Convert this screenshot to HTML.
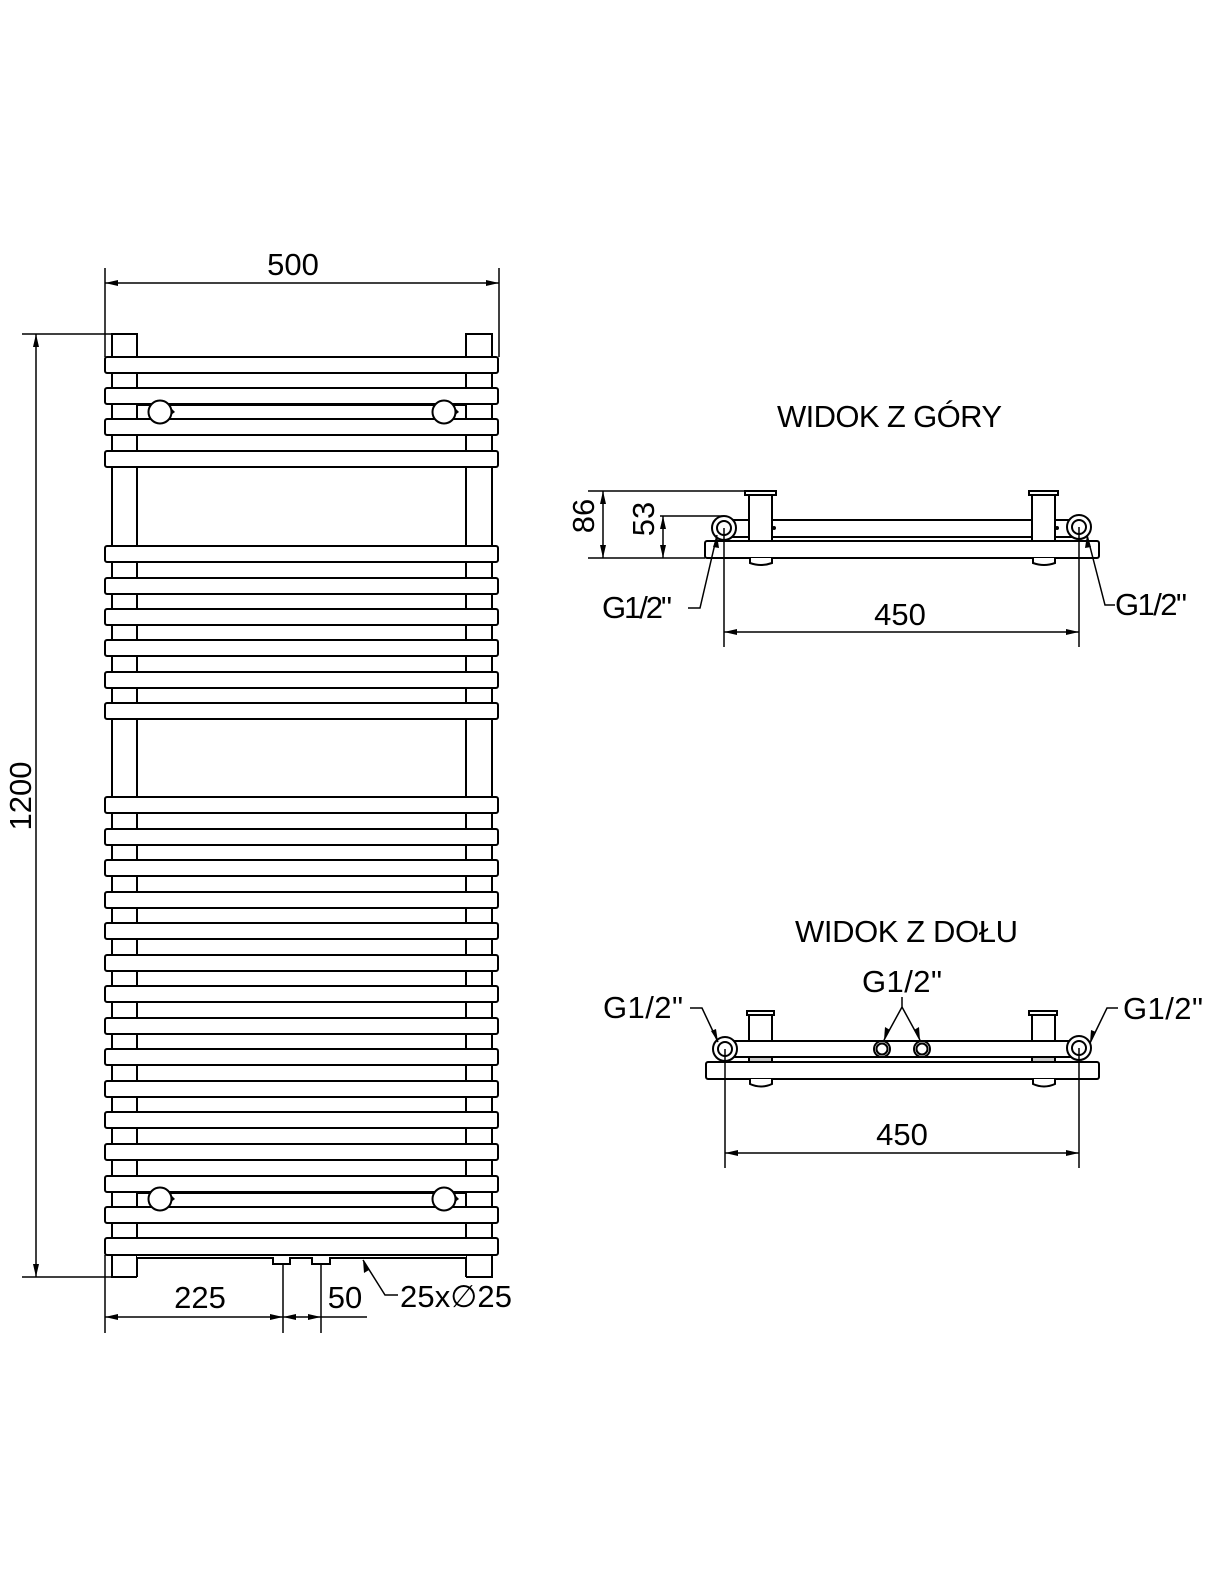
<!DOCTYPE html>
<html><head><meta charset="utf-8"><style>
html,body{margin:0;padding:0;background:#fff;}
svg{display:block}
text{font-family:"Liberation Sans",sans-serif;fill:#000}
</style></head><body>
<svg width="1211" height="1585" viewBox="0 0 1211 1585" xmlns="http://www.w3.org/2000/svg">
<g stroke="#000" stroke-width="2" fill="#fff">
<rect x="112" y="334" width="25" height="943"/>
<rect x="466" y="334" width="26" height="943"/>
<rect x="137" y="405" width="329" height="14"/>
<rect x="137" y="1193" width="329" height="14"/>
<g>
<rect x="105" y="357" width="393" height="16" rx="2"/>
<rect x="105" y="388" width="393" height="16" rx="2"/>
<rect x="105" y="419" width="393" height="16" rx="2"/>
<rect x="105" y="451" width="393" height="16" rx="2"/>
<rect x="105" y="546" width="393" height="16" rx="2"/>
<rect x="105" y="578" width="393" height="16" rx="2"/>
<rect x="105" y="609" width="393" height="16" rx="2"/>
<rect x="105" y="640" width="393" height="16" rx="2"/>
<rect x="105" y="672" width="393" height="16" rx="2"/>
<rect x="105" y="703" width="393" height="16" rx="2"/>
<rect x="105" y="797" width="393" height="16" rx="2"/>
<rect x="105" y="829" width="393" height="16" rx="2"/>
<rect x="105" y="860" width="393" height="16" rx="2"/>
<rect x="105" y="892" width="393" height="16" rx="2"/>
<rect x="105" y="923" width="393" height="16" rx="2"/>
<rect x="105" y="955" width="393" height="16" rx="2"/>
<rect x="105" y="986" width="393" height="16" rx="2"/>
<rect x="105" y="1018" width="393" height="16" rx="2"/>
<rect x="105" y="1049" width="393" height="16" rx="2"/>
<rect x="105" y="1081" width="393" height="16" rx="2"/>
<rect x="105" y="1112" width="393" height="16" rx="2"/>
<rect x="105" y="1144" width="393" height="16" rx="2"/>
<rect x="105" y="1176" width="393" height="16" rx="2"/>
<rect x="105" y="1207" width="393" height="16" rx="2"/>
<rect x="105" y="1238" width="393" height="17" rx="2"/>
</g>
<rect x="137" y="1256" width="329" height="22" stroke="none"/>
<path d="M137 1277 V1258 H273 V1264 H290 V1258 H312 V1264 H330 V1258 H466 V1277" fill="none"/>
<line x1="112" y1="1277" x2="137" y2="1277"/>
<line x1="466" y1="1277" x2="492" y2="1277"/>
<circle cx="160" cy="412" r="11.5"/>
<circle cx="444" cy="412" r="11.5"/>
<circle cx="160" cy="1199" r="11.5"/>
<circle cx="444" cy="1199" r="11.5"/>
</g>
<g fill="#000">
<polygon points="171,408 175,412 171,415"/><polygon points="455,408 459,412 455,415"/>
<polygon points="171,1195 175,1199 171,1202"/><polygon points="455,1195 459,1199 455,1202"/>
</g>
<g stroke="#000" stroke-width="1.5" fill="none">
<line x1="105" y1="268" x2="105" y2="357"/>
<line x1="499" y1="268" x2="499" y2="357"/>
<line x1="105" y1="283" x2="499" y2="283"/>
<line x1="22" y1="334" x2="112" y2="334"/>
<line x1="22" y1="1277" x2="112" y2="1277"/>
<line x1="36" y1="334" x2="36" y2="1277"/>
<line x1="105" y1="1255" x2="105" y2="1333"/>
<line x1="283" y1="1264" x2="283" y2="1333"/>
<line x1="321" y1="1264" x2="321" y2="1333"/>
<line x1="105" y1="1317" x2="367" y2="1317"/>
<polyline points="363,1260 385,1295 398,1295"/>
</g>
<g fill="#000">
<polygon points="105,283 118,280 118,286"/><polygon points="499,283 486,280 486,286"/>
<polygon points="36,334 33,347 39,347"/><polygon points="36,1277 33,1264 39,1264"/>
<polygon points="105,1317 118,1314 118,1320"/><polygon points="283,1317 270,1314 270,1320"/>
<polygon points="283,1317 296,1314 296,1320"/><polygon points="321,1317 308,1314 308,1320"/>
<polygon points="363,1260 364,1273 369,1270"/>
</g>
<text x="293" y="275" font-size="31" text-anchor="middle">500</text>
<text x="0" y="0" font-size="31" text-anchor="middle" transform="translate(31,796) rotate(-90)">1200</text>
<text x="200" y="1308" font-size="31" text-anchor="middle">225</text>
<text x="345" y="1308" font-size="31" text-anchor="middle">50</text>
<text x="400" y="1307" font-size="31" textLength="112">25x∅25</text>

<text x="777" y="427" font-size="31" textLength="225">WIDOK Z GÓRY</text>
<g stroke="#000" stroke-width="2" fill="#fff">
<rect x="705" y="541" width="394" height="17" rx="2"/>
<rect x="724" y="520" width="355" height="17"/>
<path d="M750 558 V563 Q761 567 772 563 V558"/>
<path d="M1033 558 V563 Q1044 567 1055 563 V558"/>
<rect x="749" y="495" width="23" height="46"/>
<rect x="745" y="491" width="31" height="4"/>
<rect x="1032" y="495" width="23" height="46"/>
<rect x="1029" y="491" width="29" height="4"/>
<circle cx="724" cy="528" r="12"/><circle cx="724" cy="528" r="7"/>
<circle cx="1079" cy="527" r="12"/><circle cx="1079" cy="527" r="7"/>
</g>
<g fill="#000"><circle cx="774" cy="528" r="2"/><circle cx="1057" cy="528" r="2"/></g>
<g stroke="#000" stroke-width="1.5" fill="none">
<line x1="588" y1="491" x2="745" y2="491"/>
<line x1="660" y1="516" x2="724" y2="516"/>
<line x1="588" y1="558" x2="705" y2="558"/>
<line x1="603" y1="491" x2="603" y2="558"/>
<line x1="663" y1="516" x2="663" y2="558"/>
<line x1="724" y1="528" x2="724" y2="647"/>
<line x1="1079" y1="527" x2="1079" y2="647"/>
<line x1="724" y1="632" x2="1079" y2="632"/>
<polyline points="688,608 700,608 717,535"/>
<polyline points="1115,605 1105,605 1087,535"/>
</g>
<g fill="#000">
<polygon points="603,491 600,504 606,504"/><polygon points="603,558 600,545 606,545"/>
<polygon points="663,516 660,529 666,529"/><polygon points="663,558 660,545 666,545"/>
<polygon points="724,632 737,629 737,635"/><polygon points="1079,632 1066,629 1066,635"/>
<polygon points="717,535 713,547 719,548"/><polygon points="1087,535 1085,548 1091,547"/>
</g>
<text x="0" y="0" font-size="31" text-anchor="middle" transform="translate(594,516) rotate(-90)">86</text>
<text x="0" y="0" font-size="31" text-anchor="middle" transform="translate(654,519) rotate(-90)">53</text>
<text x="602" y="618" font-size="31" textLength="70">G1/2"</text>
<text x="1115" y="615" font-size="31" textLength="72">G1/2"</text>
<text x="900" y="625" font-size="31" text-anchor="middle">450</text>

<text x="795" y="942" font-size="31" textLength="223">WIDOK Z DOŁU</text>
<g stroke="#000" stroke-width="2" fill="#fff">
<rect x="706" y="1062" width="393" height="17" rx="2"/>
<rect x="725" y="1041" width="354" height="16"/>
<rect x="749" y="1057" width="23" height="5" fill="#ccc"/>
<rect x="1032" y="1057" width="23" height="5" fill="#ccc"/>
<path d="M750 1079 V1084 Q761 1089 772 1084 V1079"/>
<path d="M1033 1079 V1084 Q1044 1089 1055 1084 V1079"/>
<rect x="749" y="1015" width="23" height="26"/>
<rect x="747" y="1011" width="27" height="4"/>
<rect x="1032" y="1015" width="23" height="26"/>
<rect x="1029" y="1011" width="28" height="4"/>
<circle cx="725" cy="1049" r="12"/><circle cx="725" cy="1049" r="7"/>
<circle cx="1079" cy="1048" r="12"/><circle cx="1079" cy="1048" r="7"/>
<circle cx="882" cy="1049" r="8"/><circle cx="882" cy="1049" r="5.5"/>
<circle cx="922" cy="1049" r="8"/><circle cx="922" cy="1049" r="5.5"/>
</g>
<g stroke="#000" stroke-width="1.5" fill="none">
<line x1="725" y1="1049" x2="725" y2="1168"/>
<line x1="1079" y1="1048" x2="1079" y2="1168"/>
<line x1="725" y1="1153" x2="1079" y2="1153"/>
<polyline points="690,1008 702,1008 718,1042"/>
<polyline points="1118,1008 1107,1008 1090,1043"/>
<polyline points="902,997 902,1007 884,1040"/>
<polyline points="902,1007 920,1040"/>
</g>
<g fill="#000">
<polygon points="725,1153 738,1150 738,1156"/><polygon points="1079,1153 1066,1150 1066,1156"/>
<polygon points="718,1042 711,1031 716,1029"/><polygon points="1090,1043 1091,1030 1096,1032"/>
<polygon points="884,1040 885,1027 890,1030"/><polygon points="920,1040 914,1030 919,1027"/>
</g>
<text x="603" y="1018" font-size="31" textLength="80">G1/2"</text>
<text x="862" y="992" font-size="31" textLength="80">G1/2"</text>
<text x="1123" y="1019" font-size="31" textLength="80">G1/2"</text>
<text x="902" y="1145" font-size="31" text-anchor="middle">450</text>
</svg>
</body></html>
